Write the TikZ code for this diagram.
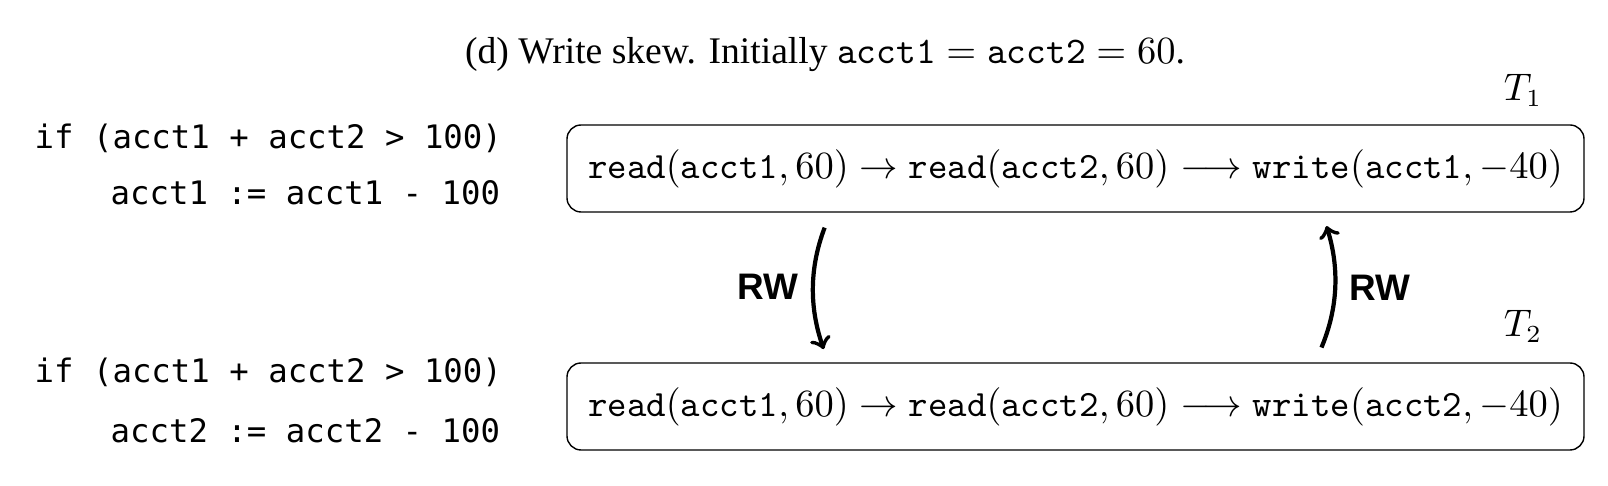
\documentclass[tikz,border=0pt]{standalone}
\usepackage{fontspec}
\setmainfont{Liberation Serif}
\newfontfamily\codefont{DejaVu Sans Mono}
\newfontfamily\rwfont{Liberation Sans}
\usetikzlibrary{positioning}

\tikzset{
  txnbox/.style={draw, rounded corners=4pt, minimum width=10.17cm, minimum height=0.87cm, inner sep=0pt, font=\fontsize{10.55}{13}\selectfont},
  codeline/.style={anchor=west, inner sep=0pt, font=\codefont\fontsize{9.2}{11}\selectfont},
  rwarrow/.style={->, very thick, shorten <=0.16cm, shorten >=0.14cm},
  rwlabel/.style={font=\rwfont\bfseries\fontsize{10.5}{12}\selectfont},
}

\begin{document}
\begin{tikzpicture}
    \useasboundingbox (0,0) rectangle (16.08,-4.86);

    \node[anchor=base, font=\fontsize{10.7}{13}\selectfont] (title) at (8.25,-0.64) {(d) Write skew. Initially $\texttt{acct1} = \texttt{acct2} = 60$.};

    % programs
    \node[codeline] (if1) at (0.34,-1.38) {if (acct1 + acct2 > 100)};
    \node[codeline] (upd1) at (1.10,-1.93) {acct1 := acct1 - 100};
    \node[codeline] (if2) at (0.34,-3.72) {if (acct1 + acct2 > 100)};
    \node[codeline] (upd2) at (1.10,-4.31) {acct2 := acct2 - 100};

    % transactions
    \node[txnbox] (t1) at (10.755,-1.685) {$\texttt{read}(\texttt{acct1}, 60) \rightarrow \texttt{read}(\texttt{acct2}, 60) \longrightarrow \texttt{write}(\texttt{acct1}, -40)$};
    \node[txnbox] (t2) at (10.755,-4.065) {$\texttt{read}(\texttt{acct1}, 60) \rightarrow \texttt{read}(\texttt{acct2}, 60) \longrightarrow \texttt{write}(\texttt{acct2}, -40)$};

    \node[font=\fontsize{10.5}{12}\selectfont] (t1name) at (15.23,-0.90) {$T_1$};
    \node[font=\fontsize{10.5}{12}\selectfont] (t2name) at (15.23,-3.26) {$T_2$};

    % dependencies
    \draw[rwarrow] ([xshift=2.64cm]t1.south west) to[bend right=20] node[rwlabel, left=0.02cm] (rw1) {RW} ([xshift=2.62cm]t2.north west);
    \draw[rwarrow] ([xshift=7.49cm]t2.north west) to[bend right=20] node[rwlabel, right=0.02cm] (rw2) {RW} ([xshift=7.56cm]t1.south west);

\end{tikzpicture}
\end{document}
